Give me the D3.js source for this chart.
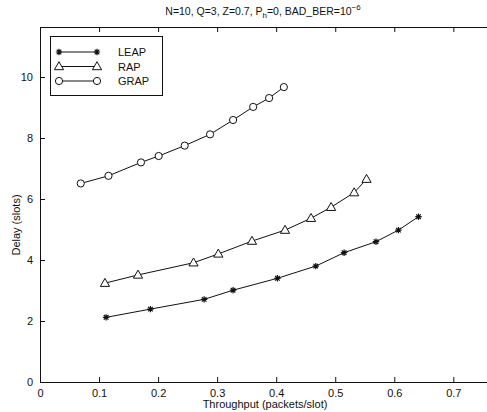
<!DOCTYPE html>
<meta charset="utf-8">
<style>
body { margin: 0; background: #fff; }
text { font-family: "Liberation Sans", Arial, sans-serif; fill: #111; }
</style>
<svg width="487" height="412"></svg>
<script src="https://cdn.jsdelivr.net/npm/d3@7"></script>
<script>
// values
var leapX = [0.112, 0.187, 0.278, 0.327, 0.402, 0.467, 0.515, 0.569, 0.607, 0.641]
var leapY = [2.12, 2.39, 2.71, 3.01, 3.40, 3.80, 4.24, 4.60, 4.98, 5.42]
var rapX = [0.110, 0.166, 0.260, 0.302, 0.359, 0.415, 0.459, 0.493, 0.532, 0.553]
var rapY = [3.24, 3.51, 3.91, 4.20, 4.62, 4.98, 5.37, 5.73, 6.21, 6.65]
var grapX = [0.069, 0.116, 0.171, 0.201, 0.245, 0.288, 0.327, 0.361, 0.388, 0.413]
var grapY = [6.51, 6.76, 7.20, 7.41, 7.75, 8.12, 8.59, 9.02, 9.31, 9.67]
var xTicks = [0, 0.1, 0.2, 0.3, 0.4, 0.5, 0.6, 0.7]
var yTicks = [0, 2, 4, 6, 8, 10]
var names = ["LEAP", "RAP", "GRAP"]

var svg = d3.select("svg")
var mLeft = 40, mRight = 489, mTop = 27, mBottom = 382

var x = d3.scaleLinear().domain([0, 0.7604]).range([mLeft, mRight])
var y = d3.scaleLinear().domain([0, 11.64]).range([mBottom, mTop])

var tk = 5
// inward ticks, matlab style
svg.append("g").attr("transform", "translate(0," + mBottom + ")")
  .call(d3.axisBottom(x).tickValues(xTicks).tickSizeInner(-tk).tickSizeOuter(0).tickPadding(7).tickFormat(d3.format("")))
svg.append("g").attr("transform", "translate(0," + mTop + ")")
  .call(d3.axisTop(x).tickValues(xTicks).tickSizeInner(-tk).tickSizeOuter(0).tickFormat(""))
svg.append("g").attr("transform", "translate(" + mLeft + ",0)")
  .call(d3.axisLeft(y).tickValues(yTicks).tickSizeInner(-tk).tickSizeOuter(0).tickPadding(7).tickFormat(d3.format("d")))

svg.selectAll(".domain").attr("stroke", "#111")
svg.selectAll(".tick line").attr("stroke", "#111")
svg.selectAll(".tick text").attr("font-size", 11).attr("font-family", "Liberation Sans, Arial, sans-serif").attr("fill", "#111")

var series = [
  {name: names[0], pts: d3.zip(leapX, leapY)},
  {name: names[1], pts: d3.zip(rapX, rapY)},
  {name: names[2], pts: d3.zip(grapX, grapY)}
]

var line = d3.line().x(function(d){ return x(d[0]) }).y(function(d){ return y(d[1]) })

function marker(g, i, cx, cy){
  if(i === 0){
    // matlab style '*': plus and cross
    var a = 3.2, b = 2.3
    g.append("path")
      .attr("d", "M" + (cx - a) + "," + cy + "h" + 2 * a + "M" + cx + "," + (cy - a) + "v" + 2 * a +
        "M" + (cx - b) + "," + (cy - b) + "l" + 2 * b + "," + 2 * b + "M" + (cx - b) + "," + (cy + b) + "l" + 2 * b + "," + (-2 * b))
      .attr("fill", "none").attr("stroke", "#111").attr("stroke-width", 1.2)
  }else if(i === 1){
    g.append("path").attr("d", "M" + cx + "," + (cy - 4.8) + "L" + (cx + 4.6) + "," + (cy + 3.2) + "L" + (cx - 4.6) + "," + (cy + 3.2) + "Z")
      .attr("fill", "#fff").attr("stroke", "#111").attr("stroke-width", 1)
  }else{
    g.append("circle").attr("cx", cx).attr("cy", cy).attr("r", 3.6)
      .attr("fill", "#fff").attr("stroke", "#111").attr("stroke-width", 1)
  }
}

series.forEach(function(s, i){
  svg.append("path").datum(s.pts).attr("d", line)
    .attr("fill", "none").attr("stroke", "#111").attr("stroke-width", 1)
  var g = svg.append("g")
  s.pts.forEach(function(p){ marker(g, i, x(p[0]), y(p[1])) })
})

// legend
var lg = svg.append("g")
lg.append("rect").attr("x", 50.5).attr("y", 36.5).attr("width", 112).attr("height", 59)
  .attr("fill", "#fff").attr("stroke", "#111").attr("stroke-width", 1)
names.forEach(function(n, i){
  var ly = 52 + i * 14.5
  lg.append("line").attr("x1", 59).attr("x2", 97).attr("y1", ly).attr("y2", ly)
    .attr("stroke", "#111").attr("stroke-width", 1)
  marker(lg, i, 59, ly)
  marker(lg, i, 97, ly)
  lg.append("text").attr("x", 118).attr("y", ly + 4).attr("font-size", 11).text(n)
})

// title
var t = svg.append("text").attr("x", 263).attr("y", 15).attr("text-anchor", "middle").attr("font-size", 10.5)
t.append("tspan").text("N=10, Q=3, Z=0.7, P")
t.append("tspan").attr("dy", 3).attr("font-size", 8).text("h")
t.append("tspan").attr("dy", -3).text("=0, BAD_BER=10")
t.append("tspan").attr("dy", -5).attr("font-size", 8).text("\u22126")

svg.append("text").attr("x", 265).attr("y", 408).attr("text-anchor", "middle").attr("font-size", 11)
  .text("Throughput (packets/slot)")
svg.append("text").attr("transform", "translate(20,225) rotate(-90)").attr("text-anchor", "middle").attr("font-size", 11)
  .text("Delay (slots)")
</script>
